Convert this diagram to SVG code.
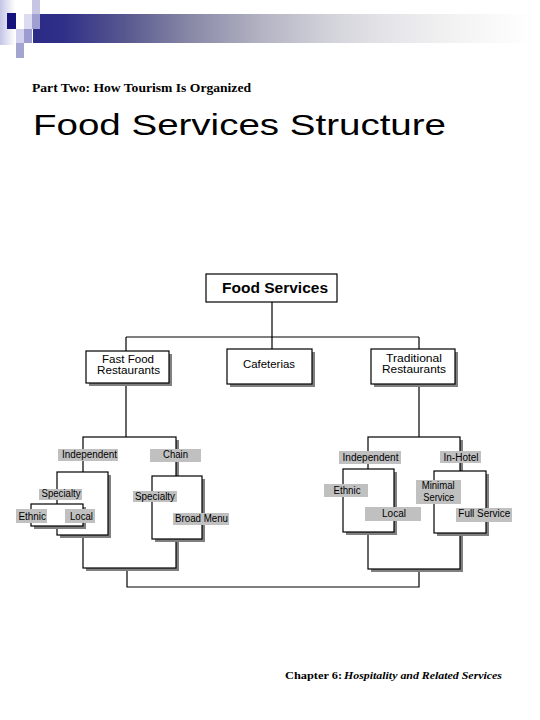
<svg xmlns="http://www.w3.org/2000/svg" width="540" height="720" viewBox="0 0 540 720">
<style>
.ln{fill:none;stroke:#000;stroke-width:1.2}
.box{fill:#fff;stroke:#000;stroke-width:1.2}
.sh{fill:#808080;stroke:none}
.lb{fill:#c0c0c0;stroke:none}
.t{font-family:"Liberation Sans",Arial,sans-serif;font-size:10px;fill:#000}
.tb{font-family:"Liberation Sans",Arial,sans-serif;font-size:11px;fill:#000}
</style>
<defs>
<linearGradient id="bar" x1="0" y1="0" x2="1" y2="0">
<stop offset="0" stop-color="#2b2b88"/>
<stop offset="0.06" stop-color="#2f2f88"/>
<stop offset="0.19" stop-color="#5a5a90"/>
<stop offset="0.32" stop-color="#8a8aa8"/>
<stop offset="0.46" stop-color="#b4b4c4"/>
<stop offset="0.59" stop-color="#d2d2da"/>
<stop offset="0.72" stop-color="#e6e6ea"/>
<stop offset="0.86" stop-color="#f4f4f4"/>
<stop offset="1" stop-color="#ffffff"/>
</linearGradient>
<linearGradient id="strip" x1="0" y1="0" x2="1" y2="0">
<stop offset="0" stop-color="#c4c4e6"/>
<stop offset="1" stop-color="#ffffff"/>
</linearGradient>
</defs>
<rect width="540" height="720" fill="#fff"/>
<g id="decoration">
<rect x="0" y="0" width="15" height="45" fill="url(#strip)"/>
<rect x="33" y="14" width="500" height="29" fill="url(#bar)"/>
<rect x="7" y="13" width="9" height="16" fill="#14147c"/>
<rect x="16" y="29" width="8" height="14" fill="#d2d2ee"/>
<rect x="24" y="14" width="8" height="15" fill="#dcdcf0"/>
<rect x="24" y="29" width="8" height="14" fill="#9c9cd0"/>
<rect x="32" y="0" width="8" height="14" fill="#c6c6e4"/>
<rect x="32" y="14" width="8" height="15" fill="#a0a0d2"/>
<rect x="16" y="43" width="8" height="15" fill="#a4a4d0"/>
</g>
<g id="headings">
<text x="32" y="92" font-family="'Liberation Serif','Times New Roman',serif" font-size="12" font-weight="bold" textLength="219" lengthAdjust="spacingAndGlyphs">Part Two: How Tourism Is Organized</text>
<text x="33" y="135" font-family="'Liberation Sans',Arial,sans-serif" font-size="29" textLength="413" lengthAdjust="spacingAndGlyphs">Food Services Structure</text>
<text x="285" y="679" font-family="'Liberation Serif','Times New Roman',serif" font-size="11" font-weight="bold" textLength="57" lengthAdjust="spacingAndGlyphs">Chapter 6:</text>
<text x="344" y="679" font-family="'Liberation Serif','Times New Roman',serif" font-size="11" font-weight="bold" font-style="italic" textLength="158" lengthAdjust="spacingAndGlyphs">Hospitality and Related Services</text>
</g>
<g id="connectors">
<path class="ln" d="M272 302V349M126 337H419M126 337V351M419 337V349M126 383V437M419 384V437M127 568V587H419V569"/>
<rect class="sh" x="86" y="440" width="93" height="131"/>
<rect class="box" x="83" y="437" width="93" height="131"/>
<rect class="sh" x="371" y="440" width="92" height="132"/>
<rect class="box" x="368" y="437" width="92" height="132"/>
<rect class="sh" x="60" y="475" width="51" height="63"/>
<rect class="box" x="57" y="472" width="51" height="63"/>
<rect class="sh" x="34" y="507" width="52" height="22"/>
<rect class="box" x="31" y="504" width="52" height="22"/>
<rect class="sh" x="155" y="479" width="50" height="63"/>
<rect class="box" x="152" y="476" width="50" height="63"/>
<rect class="sh" x="346" y="472" width="51" height="63"/>
<rect class="box" x="343" y="469" width="51" height="63"/>
<rect class="sh" x="437" y="474" width="52" height="62"/>
<rect class="box" x="434" y="471" width="52" height="62"/>
</g>
<g id="food-services">
<rect class="box" x="206" y="274" width="131" height="28"/>
<text x="222" y="293" font-family="'Liberation Sans',Arial,sans-serif" font-size="14" font-weight="bold" textLength="106" lengthAdjust="spacingAndGlyphs">Food Services</text>
</g>
<g id="fast-food">
<rect class="sh" x="89" y="354" width="83" height="32"/>
<rect class="box" x="86" y="351" width="83" height="32"/>
<text class="tb" x="102" y="363" textLength="52" lengthAdjust="spacingAndGlyphs">Fast Food</text>
<text class="tb" x="97" y="374" textLength="63" lengthAdjust="spacingAndGlyphs">Restaurants</text>
</g>
<g id="cafeterias">
<rect class="sh" x="230" y="352" width="85" height="35"/>
<rect class="box" x="227" y="349" width="85" height="35"/>
<text class="tb" x="243" y="368" textLength="52" lengthAdjust="spacingAndGlyphs">Cafeterias</text>
</g>
<g id="traditional">
<rect class="sh" x="374" y="352" width="84" height="35"/>
<rect class="box" x="371" y="349" width="84" height="35"/>
<text class="tb" x="386" y="362" textLength="56" lengthAdjust="spacingAndGlyphs">Traditional</text>
<text class="tb" x="382" y="373" textLength="64" lengthAdjust="spacingAndGlyphs">Restaurants</text>
</g>
<g id="ff-independent">
<rect class="lb" x="58" y="449" width="60" height="12"/>
<text class="t" x="62" y="457.5" textLength="55" lengthAdjust="spacingAndGlyphs">Independent</text>
</g>
<g id="ff-chain">
<rect class="lb" x="150" y="449" width="51" height="13"/>
<text class="t" x="163" y="458" textLength="25" lengthAdjust="spacingAndGlyphs">Chain</text>
</g>
<g id="ff-ind-specialty">
<rect class="lb" x="39" y="489" width="43" height="11"/>
<text class="t" x="41.5" y="497" textLength="39" lengthAdjust="spacingAndGlyphs">Specialty</text>
</g>
<g id="ff-ethnic">
<rect class="lb" x="16" y="509" width="31" height="14"/>
<text class="t" x="18.5" y="520" textLength="27.5" lengthAdjust="spacingAndGlyphs">Ethnic</text>
</g>
<g id="ff-local">
<rect class="lb" x="65" y="509" width="30" height="14"/>
<text class="t" x="70" y="520" textLength="23" lengthAdjust="spacingAndGlyphs">Local</text>
</g>
<g id="ff-chain-specialty">
<rect class="lb" x="133" y="491" width="44" height="11"/>
<text class="t" x="135" y="500" textLength="40" lengthAdjust="spacingAndGlyphs">Specialty</text>
</g>
<g id="ff-broad-menu">
<rect class="lb" x="173" y="513" width="56" height="12"/>
<text class="t" x="175" y="521.7" textLength="53" lengthAdjust="spacingAndGlyphs">Broad Menu</text>
</g>
<g id="tr-independent">
<rect class="lb" x="339" y="451" width="62" height="13"/>
<text class="t" x="342.5" y="460.7" textLength="56" lengthAdjust="spacingAndGlyphs">Independent</text>
</g>
<g id="tr-in-hotel">
<rect class="lb" x="440" y="451" width="41" height="12"/>
<text class="t" x="443.5" y="460.7" textLength="35" lengthAdjust="spacingAndGlyphs">In-Hotel</text>
</g>
<g id="tr-ethnic">
<rect class="lb" x="324" y="484" width="44" height="13"/>
<text class="t" x="333.5" y="494" textLength="27" lengthAdjust="spacingAndGlyphs">Ethnic</text>
</g>
<g id="tr-local">
<rect class="lb" x="365" y="507" width="56" height="14"/>
<text class="t" x="382" y="517.3" textLength="24" lengthAdjust="spacingAndGlyphs">Local</text>
</g>
<g id="tr-minimal-service">
<rect class="lb" x="416" y="480" width="45" height="24"/>
<text class="t" x="421.7" y="489" textLength="33" lengthAdjust="spacingAndGlyphs">Minimal</text>
<text class="t" x="423.3" y="500.7" textLength="31" lengthAdjust="spacingAndGlyphs">Service</text>
</g>
<g id="tr-full-service">
<rect class="lb" x="456" y="508" width="56" height="14"/>
<text class="t" x="458.3" y="517.3" textLength="52" lengthAdjust="spacingAndGlyphs">Full Service</text>
</g>
</svg>
